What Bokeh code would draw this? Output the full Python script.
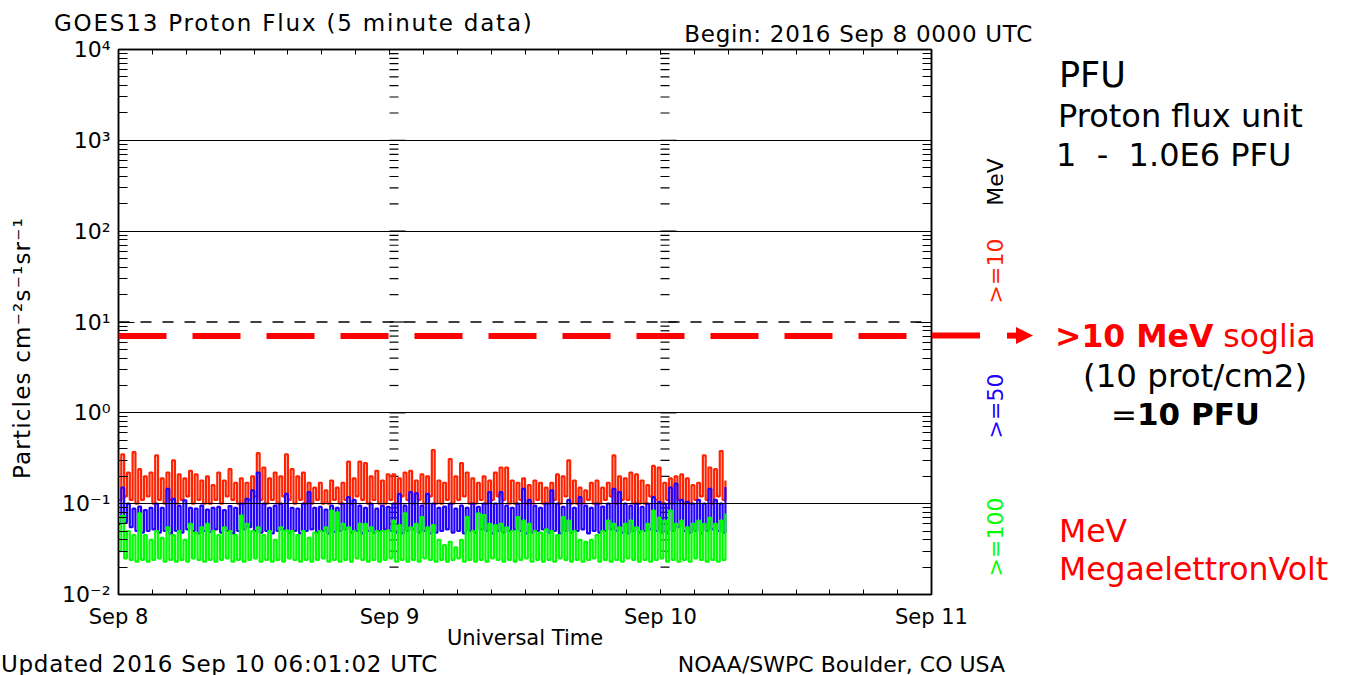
import math
from html import escape
from bokeh.plotting import figure
from bokeh.layouts import column
from bokeh.models import (Range1d, FixedTicker, LogAxis, LinearAxis, CustomJSTickFormatter,
                          Span, Div)
from bokeh.embed import file_html
from bokeh.resources import INLINE

# ---------------- data ----------------
# 30-minute bins starting 2016 Sep 8 00:00 UTC; per bin the lowest and highest flux seen (pfu)
bin_hours = 0.5
red_hi = [0.35,0.22,0.37,0.24,0.20,0.22,0.34,0.19,0.22,0.30,
          0.21,0.19,0.23,0.21,0.18,0.20,0.16,0.22,0.18,0.24,
          0.17,0.19,0.17,0.20,0.36,0.25,0.19,0.22,0.20,0.35,
          0.24,0.20,0.22,0.17,0.15,0.17,0.14,0.18,0.15,0.17,
          0.29,0.19,0.29,0.28,0.20,0.23,0.18,0.21,0.21,0.19,
          0.22,0.23,0.18,0.21,0.20,0.39,0.18,0.17,0.31,0.20,
          0.28,0.22,0.19,0.17,0.20,0.18,0.22,0.25,0.25,0.18,
          0.17,0.19,0.16,0.18,0.17,0.15,0.17,0.21,0.20,0.30,
          0.18,0.15,0.14,0.17,0.18,0.15,0.17,0.34,0.20,0.19,
          0.22,0.21,0.18,0.16,0.26,0.25,0.17,0.19,0.20,0.21,
          0.19,0.16,0.17,0.34,0.25,0.24,0.38,0.18]
red_lo = [0.11,0.12,0.11,0.10,0.11,0.12,0.10,0.11,0.10,0.11,
          0.10,0.11,0.12,0.10,0.11,0.10,0.10,0.11,0.10,0.12,
          0.11,0.10,0.10,0.11,0.12,0.11,0.10,0.11,0.10,0.12,
          0.11,0.10,0.11,0.10,0.10,0.11,0.10,0.10,0.11,0.10,
          0.11,0.10,0.12,0.11,0.10,0.11,0.10,0.10,0.11,0.10,
          0.12,0.11,0.10,0.11,0.10,0.12,0.10,0.10,0.11,0.10,
          0.11,0.12,0.10,0.10,0.11,0.10,0.11,0.12,0.11,0.10,
          0.10,0.11,0.10,0.10,0.11,0.10,0.10,0.11,0.10,0.12,
          0.10,0.10,0.10,0.11,0.10,0.10,0.11,0.12,0.10,0.11,
          0.11,0.10,0.10,0.10,0.12,0.11,0.10,0.11,0.10,0.11,
          0.10,0.10,0.11,0.12,0.11,0.10,0.12,0.11]
blue_hi = [0.15,0.10,0.088,0.093,0.085,0.09,0.10,0.09,0.146,0.113,
           0.095,0.109,0.09,0.088,0.095,0.086,0.09,0.092,0.085,0.094,
           0.09,0.10,0.113,0.14,0.22,0.10,0.09,0.095,0.10,0.128,
           0.09,0.088,0.10,0.134,0.09,0.092,0.086,0.095,0.09,0.10,
           0.118,0.11,0.095,0.09,0.10,0.088,0.095,0.092,0.10,0.128,
           0.095,0.134,0.13,0.095,0.128,0.10,0.09,0.093,0.10,0.088,
           0.095,0.09,0.10,0.092,0.10,0.134,0.10,0.134,0.095,0.09,
           0.10,0.146,0.11,0.095,0.09,0.10,0.14,0.10,0.092,0.11,
           0.09,0.118,0.095,0.09,0.10,0.093,0.10,0.146,0.134,0.10,
           0.095,0.10,0.092,0.10,0.118,0.105,0.10,0.15,0.166,0.11,
           0.105,0.10,0.11,0.10,0.146,0.11,0.10,0.153]
blue_lo = [0.06,0.062,0.055,0.05,0.048,0.05,0.052,0.048,0.05,0.047,
           0.05,0.048,0.052,0.05,0.047,0.05,0.049,0.052,0.048,0.05,
           0.047,0.05,0.052,0.055,0.05,0.048,0.05,0.047,0.05,0.052,
           0.048,0.05,0.047,0.05,0.052,0.048,0.05,0.047,0.049,0.05,
           0.052,0.048,0.05,0.047,0.05,0.048,0.05,0.052,0.05,0.048,
           0.047,0.05,0.052,0.048,0.05,0.047,0.048,0.05,0.052,0.048,
           0.05,0.047,0.05,0.048,0.052,0.05,0.047,0.05,0.048,0.05,
           0.052,0.05,0.047,0.048,0.05,0.052,0.048,0.05,0.047,0.05,
           0.048,0.05,0.052,0.047,0.05,0.048,0.05,0.052,0.05,0.048,
           0.047,0.05,0.048,0.05,0.052,0.05,0.048,0.047,0.05,0.055,
           0.05,0.048,0.05,0.047,0.05,0.052,0.05,0.048]
green_hi = [0.074,0.05,0.045,0.078,0.045,0.04,0.05,0.042,0.055,0.045,
            0.05,0.04,0.06,0.048,0.055,0.06,0.05,0.045,0.055,0.05,
            0.045,0.074,0.06,0.05,0.055,0.045,0.05,0.04,0.055,0.051,
            0.05,0.045,0.05,0.042,0.048,0.05,0.055,0.084,0.08,0.06,
            0.055,0.05,0.06,0.06,0.055,0.05,0.05,0.051,0.065,0.058,
            0.078,0.055,0.06,0.071,0.055,0.058,0.04,0.035,0.038,0.033,
            0.04,0.071,0.05,0.078,0.075,0.06,0.058,0.06,0.055,0.05,
            0.071,0.065,0.06,0.05,0.048,0.052,0.05,0.045,0.071,0.065,
            0.05,0.04,0.038,0.04,0.045,0.05,0.065,0.06,0.055,0.06,
            0.065,0.055,0.05,0.06,0.084,0.07,0.065,0.084,0.06,0.065,
            0.055,0.06,0.065,0.06,0.07,0.06,0.065,0.078]
green_lo = [0.03,0.025,0.024,0.023,0.024,0.023,0.024,0.025,0.023,0.024,
            0.023,0.024,0.023,0.025,0.024,0.023,0.024,0.023,0.024,0.025,
            0.023,0.024,0.023,0.024,0.025,0.023,0.024,0.023,0.024,0.023,
            0.025,0.024,0.023,0.024,0.023,0.024,0.025,0.023,0.024,0.023,
            0.024,0.023,0.025,0.024,0.023,0.024,0.023,0.024,0.025,0.023,
            0.024,0.023,0.024,0.023,0.025,0.024,0.023,0.024,0.023,0.024,
            0.025,0.023,0.024,0.023,0.024,0.023,0.025,0.024,0.023,0.024,
            0.023,0.024,0.025,0.023,0.024,0.023,0.024,0.023,0.025,0.024,
            0.023,0.024,0.023,0.024,0.025,0.023,0.024,0.023,0.024,0.023,
            0.025,0.024,0.023,0.024,0.023,0.024,0.025,0.023,0.024,0.023,
            0.024,0.023,0.025,0.024,0.023,0.024,0.023,0.024]

series_names = [">=10", ">=50", ">=100"]
series_colors = ["#ff2200", "#2200ff", "#00ff00"]

x_ticks = [0, 24, 48, 72]                      # hours since Sep 8 00 UTC
x_tick_labels = ["Sep 8", "Sep 9", "Sep 10", "Sep 11"]
y_ticks = [1e-2, 1e-1, 1e0, 1e1, 1e2, 1e3, 1e4]
y_tick_labels = ["10\u207b\u00b2", "10\u207b\u00b9", "10\u2070", "10\u00b9", "10\u00b2", "10\u00b3", "10\u2074"]
threshold_pfu = 10.0          # NOAA >=10 MeV alert level (dashed black line)
marked_level = 7.0            # red dashed marker drawn by the presenter

# ---------------- geometry ----------------
W, H = 1350, 675
FL, FR, FT, FB = 118, 931, 49, 594
X0, X1 = 0.0, 72.0
Y0, Y1 = 1e-2, 1e4
PXH = (FR - FL) / (X1 - X0)
PXD = (FB - FT) / (math.log10(Y1) - math.log10(Y0))


def py_of(v):
    return FB - (math.log10(v) - math.log10(Y0)) * PXD


FONT = "DejaVu Sans"
RED = "#ff0000"

p = figure(width=W, height=H, x_range=Range1d(X0, X1), y_range=Range1d(Y0, Y1),
           y_axis_type="log", output_backend="svg", toolbar_location=None,
           min_border_left=FL, min_border_right=W - FR, min_border_top=FT,
           min_border_bottom=H - FB)
p.title.text = ""
p.background_fill_color = "white"
p.border_fill_color = "white"
p.outline_line_color = "black"
p.outline_line_width = 1.5
p.xgrid.visible = False

minor_y = [m * 10 ** k for k in range(-2, 4) for m in range(2, 10)]
minor_x = list(range(0, 73, 3))

x_fmt = CustomJSTickFormatter(args=dict(xt=x_ticks, xl=x_tick_labels),
                              code="const i = xt.indexOf(tick); return i >= 0 ? xl[i] : '';")
y_fmt = CustomJSTickFormatter(args=dict(yt=y_ticks, yl=y_tick_labels), code="""
let best = 0;
for (let i = 0; i < yt.length; i++) {
  if (Math.abs(Math.log10(yt[i]) - Math.log10(tick)) < Math.abs(Math.log10(yt[best]) - Math.log10(tick))) best = i;
}
return yl[best];""")
blank = CustomJSTickFormatter(code="return '';")


def style_axis(ax, tin, minin):
    ax.axis_line_color = "black"
    ax.axis_line_width = 1.5
    ax.major_tick_line_color = "black"
    ax.minor_tick_line_color = "black"
    ax.major_tick_in = tin
    ax.major_tick_out = 0
    ax.minor_tick_in = minin
    ax.minor_tick_out = 0
    ax.major_label_text_font = FONT
    ax.major_label_text_font_size = "21px"
    ax.major_label_text_color = "black"


xb = p.xaxis[0]
xb.ticker = FixedTicker(ticks=x_ticks, minor_ticks=minor_x)
xb.formatter = x_fmt
style_axis(xb, 5, 5)
xb.major_label_standoff = 10
xb.axis_label = "Universal Time"
xb.axis_label_text_font = FONT
xb.axis_label_text_font_size = "21px"
xb.axis_label_text_font_style = "normal"
xb.axis_label_text_color = "black"
xb.axis_label_standoff = -6

yleft = p.yaxis[0]
yleft.ticker = FixedTicker(ticks=y_ticks, minor_ticks=minor_y)
yleft.formatter = y_fmt
style_axis(yleft, 16, 9)
yleft.major_label_standoff = 8
yleft.major_label_text_font_size = "22px"

top = LinearAxis(ticker=FixedTicker(ticks=x_ticks, minor_ticks=minor_x), formatter=blank)
style_axis(top, 5, 5)
top.major_label_text_font_size = "1px"
p.add_layout(top, "above")

right = LogAxis(ticker=FixedTicker(ticks=y_ticks, minor_ticks=minor_y), formatter=blank)
style_axis(right, 16, 9)
right.major_label_text_font_size = "1px"
p.add_layout(right, "right")

grid_ticks = [t for t in y_ticks if t not in (Y0, Y1, threshold_pfu)]
p.ygrid.ticker = FixedTicker(ticks=grid_ticks)
p.ygrid.grid_line_color = "black"
p.ygrid.grid_line_width = 1.2
p.ygrid.level = "overlay"

p.add_layout(Span(location=threshold_pfu, dimension="width", line_color="black",
                  line_width=1.3, line_dash="11 11", level="overlay"))
p.add_layout(Span(location=marked_level, dimension="width", line_color=RED,
                  line_width=6, line_dash="48 26", level="overlay"))

# tick columns at each interior day boundary
cx0, cx1, cy = [], [], []
for d in x_ticks[1:-1]:
    for v in minor_y:
        cx0.append(d); cx1.append(d + 9 / PXH); cy.append(v)
    for v in y_ticks:
        cx0.append(d); cx1.append(d + 16 / PXH); cy.append(v)
p.segment(x0=cx0, x1=cx1, y0=cy, y1=cy, line_color="black", line_width=1.2)

# flux traces: square wave between each bin's low and high values
for lo, hi, col in [(red_lo, red_hi, series_colors[0]),
                    (blue_lo, blue_hi, series_colors[1]),
                    (green_lo, green_hi, series_colors[2])]:
    xs, ys = [], []
    for i, (a, b) in enumerate(zip(lo, hi)):
        xs += [i * bin_hours, i * bin_hours + bin_hours / 2]
        ys += [a, b]
    p.step(x=xs, y=ys, mode="after", line_color=col, line_width=2.2)

# ---------------- overlay (SVG text) for everything outside the plot frame ----------------
parts = []


def txt(content, x, y, size, color="black", anchor="start", weight="normal",
        rotate=False, baseline=None, spacing=0.0, pre=False):
    style = (f"font-family:'{FONT}';font-size:{size}px;font-weight:{weight};"
             f"letter-spacing:{spacing}px;fill:{color};")
    if pre:
        style += "white-space:pre;"
    attrs = f'text-anchor="{anchor}" style="{style}"'
    if baseline:
        attrs += f' dominant-baseline="{baseline}"'
    if pre:
        attrs += ' xml:space="preserve"'
    if rotate:
        parts.append(f'<text transform="translate({x},{y}) rotate(-90)" {attrs}>{content}</text>')
    else:
        parts.append(f'<text x="{x}" y="{y}" {attrs}>{content}</text>')


txt(escape("GOES13 Proton Flux (5 minute data)"), 54, 31, 23, spacing=1.8)
txt(escape("Begin: 2016 Sep 8 0000 UTC"), 1033, 42, 23, anchor="end", spacing=0.7)
txt(escape("Updated 2016 Sep 10 06:01:02 UTC"), 1, 672, 23, spacing=0.7)
txt(escape("NOAA/SWPC Boulder, CO USA"), 1005, 672, 22, anchor="end")
txt(escape("Particles cm\u207b\u00b2s\u207b\u00b9sr\u207b\u00b9"), 22, 348, 23,
    anchor="middle", rotate=True, baseline="central", spacing=1.2)
txt("MeV", 995, 182, 22, anchor="middle", rotate=True, baseline="central")
for name, col, cy_px in zip(series_names, series_colors, [271, 406, 537]):
    txt(escape(name), 995, cy_px, 22, color=col, anchor="middle", rotate=True, baseline="central")

txt("PFU", 1059, 87, 35)
txt("Proton flux unit", 1058, 127, 32)
txt("1  -  1.0E6 PFU", 1056, 166, 32, pre=True)
txt('<tspan style="font-weight:bold">&gt;10 MeV</tspan> soglia', 1055, 347, 31.5, color=RED)
txt("(10 prot/cm2)", 1083, 387, 32.5)
txt('=<tspan style="font-weight:bold">10 PFU</tspan>', 1111, 425, 31)
txt("MeV", 1059, 542, 31.5, color=RED)
txt("MegaelettronVolt", 1059, 580, 31.5, color=RED)

my = py_of(marked_level)
parts.append(f'<line x1="{FR}" y1="{my:.1f}" x2="981" y2="{my:.1f}" stroke="{RED}" '
             f'stroke-width="6" stroke-dasharray="0 1 48 1000"/>')
parts.append(f'<line x1="1007" y1="{my:.1f}" x2="1017" y2="{my:.1f}" stroke="{RED}" stroke-width="6"/>')
parts.append(f'<polygon points="1016,{my - 8.5:.1f} 1033,{my:.1f} 1016,{my + 8.5:.1f}" fill="{RED}"/>')

svg = (f'<svg xmlns="http://www.w3.org/2000/svg" width="{W}" height="{H}" '
       f'style="position:absolute;left:0;top:0;overflow:visible">' + "".join(parts) + '</svg>')

overlay = Div(text=svg, width=W, height=H,
              styles={"position": "absolute", "left": "0px", "top": "0px",
                      "pointer-events": "none", "margin": "0px", "padding": "0px"})

layout = column(p, overlay)
open("out.html", "w", encoding="utf-8").write(file_html(layout, INLINE))
